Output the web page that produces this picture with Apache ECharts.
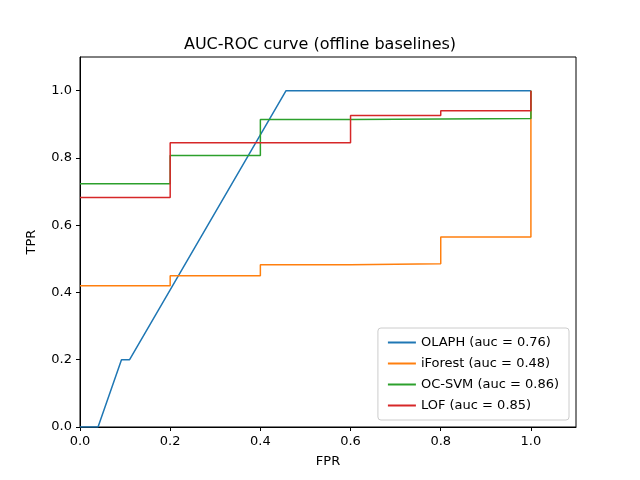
<!DOCTYPE html>
<html>
<head>
<meta charset="utf-8">
<script src="https://cdn.jsdelivr.net/npm/echarts@6/dist/echarts.min.js"></script>
<style>html,body{margin:0;padding:0;background:#fff}</style>
</head>
<body>
<div id="main" style="width:640px;height:480px"></div>
<script>
// ROC points [fpr, tpr]
var olaph = [[0,0],[0.04,0],[0.092,0.2],[0.11,0.2],[0.457,1.0],[1.0,1.0]];
var iforest = [[0,0.42],[0.2,0.42],[0.2,0.45],[0.4,0.45],[0.4,0.482],[0.6,0.482],[0.6,0.485],[0.8,0.485],[0.8,0.565],[1.0,0.565],[1.0,1.0]];
var ocsvm = [[0,0.723],[0.2,0.723],[0.2,0.807],[0.4,0.807],[0.4,0.914],[0.6,0.914],[0.6,0.917],[1.0,0.917],[1.0,1.0]];
var lof = [[0,0.682],[0.2,0.682],[0.2,0.845],[0.6,0.845],[0.6,0.926],[0.8,0.926],[0.8,0.940],[1.0,0.940],[1.0,1.0]];
var names = ['OLAPH (auc = 0.76)','iForest (auc = 0.48)','OC-SVM (auc = 0.86)','LOF (auc = 0.85)'];
var colors = ['#1f77b4','#ff7f0e','#2ca02c','#d62728'];
var allData = [olaph, iforest, ocsvm, lof];

var chart = echarts.init(document.getElementById('main'));
var series = [];
for (var i = 0; i < allData.length; i++) {
    series.push({name: names[i], type: 'line', data: allData[i], showSymbol: false,
        lineStyle: {width: 1.5, color: colors[i]}, itemStyle: {color: colors[i]}, animation: false});
}
function axisCommon() {
    return {
        axisLine: {onZero: false, lineStyle: {color: '#000'}},
        axisTick: {inside: false, length: 4, lineStyle: {color: '#000'}},
        axisLabel: {color: '#000', fontSize: 13, fontFamily: 'DejaVu Sans', showMaxLabel: false,
            formatter: function (v) { return v > 1.05 ? '' : v.toFixed(1); }},
        splitLine: {show: false},
        nameLocation: 'middle',
        nameTextStyle: {color: '#000', fontSize: 13, fontFamily: 'DejaVu Sans'}
    };
}
chart.setOption({
    backgroundColor: '#fff',
    title: {text: 'AUC-ROC curve (offline baselines)', left: 'center', top: 32,
        textStyle: {color: '#000', fontSize: 16, fontWeight: 'normal', fontFamily: 'DejaVu Sans'}},
    grid: {left: 80, right: 64, top: 57, bottom: 53, show: true, borderColor: '#000', borderWidth: 1},
    legend: {orient: 'vertical', right: 71, bottom: 60, backgroundColor: '#fff', borderColor: '#ccc',
        borderWidth: 1, borderRadius: 3, padding: [8, 10], itemGap: 8, itemWidth: 28, itemHeight: 2,
        icon: 'rect', textStyle: {color: '#000', fontSize: 13, fontFamily: 'DejaVu Sans'}, data: names},
    xAxis: Object.assign({type: 'value', min: 0, max: 1.1, interval: 0.2, name: 'FPR', nameGap: 28}, axisCommon()),
    yAxis: Object.assign({type: 'value', min: 0, max: 1.1, interval: 0.2, name: 'TPR', nameGap: 42}, axisCommon()),
    series: series
});
</script>
</body>
</html>
